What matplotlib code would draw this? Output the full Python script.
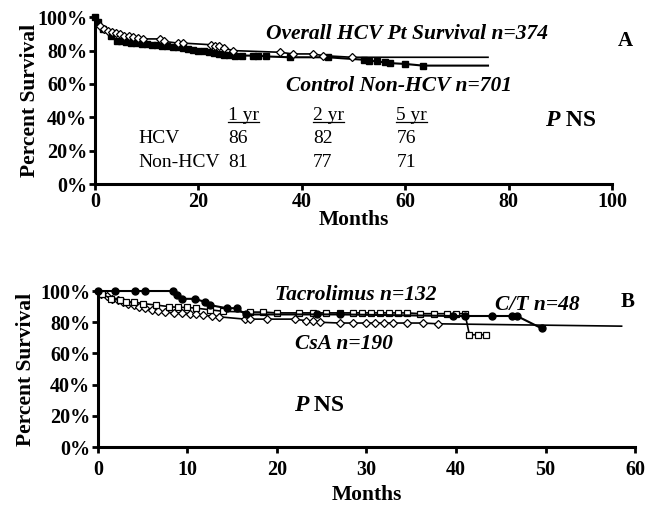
import numpy as np
import matplotlib
matplotlib.use("Agg")
import matplotlib.pyplot as plt

plt.rcParams['font.family'] = ['Liberation Serif', 'DejaVu Serif']

# Panel A : HCV vs non-HCV (months, % survival)
hcv_t = [0, 1, 1.8, 2.5, 3.2, 4, 4.8, 5.6, 6.5, 7.4, 8.3, 9.2, 12.6, 13.4, 16, 17,
         22.5, 23.3, 24, 25, 26.7, 35.8, 38.3, 42.2, 44.1, 49.7, 76]
hcv_s = [100, 95, 93, 92, 91, 90.5, 90, 89, 88.5, 88, 87.5, 87, 87, 85.5, 84.5, 84.5,
         83.5, 83, 82.5, 81.5, 80, 79, 78, 78, 77, 76, 76]

ctrl_t = [0, 0.5, 1.5, 3, 4.3, 5, 6, 7, 8, 9, 10, 11, 12, 13, 14, 15, 16, 17, 18, 19,
          20, 21, 22, 23, 24, 25, 26, 27, 28.5, 30.5, 31.5, 33, 37.7, 45, 52, 53, 54.5,
          56, 57, 60, 63.4, 76]
ctrl_s = [100, 97, 93, 89, 86, 85.5, 85, 84.5, 84.5, 84, 84, 83.5, 83.5, 83, 82.5, 82,
          82, 81.5, 81, 80.5, 80, 79.5, 79, 78.5, 78, 77.5, 77.5, 77, 77, 77, 77, 76.5,
          76, 76, 74.5, 74, 73.5, 73, 72.5, 72, 71, 71]

tab_cols = ["1 yr", "2 yr", "5 yr"]
tab_hcv = [86, 82, 76]
tab_non = [81, 77, 71]

# Panel B : by immunosuppression
ct_t = [0, 1.9, 4.1, 5.3, 8.4, 8.8, 9.4, 10.8, 12, 12.5, 14.4, 15.5, 16.5, 24.5, 27,
        39.7, 41, 44, 46.3, 46.8, 49.6]
ct_s = [100, 100, 100, 100, 100, 97.5, 95, 95, 93, 91, 89, 89, 85, 85, 85,
        84, 84, 84, 84, 84, 76]

tac_t = [0, 0.5, 1.5, 2.5, 3.2, 4, 5, 6.5, 8, 9, 10, 11, 12.5, 14, 17, 18.5, 20, 22.5,
         24, 25.5, 27, 28.5, 29.5, 30.5, 31.5, 32.5, 33.5, 34.5, 36, 37.5, 39, 40, 41,
         41.5, 42.5, 43.3]
tac_s = [100, 98, 95, 94, 93, 93, 92, 91, 90, 89.5, 89.5, 89, 88, 87, 86.5, 86.5, 86, 86,
         86, 86, 86, 86, 86, 86, 86, 86, 86, 86, 85.5, 85.5, 85.5, 85.5, 85.5,
         72, 72, 72]

csa_t = [0, 0.4, 1, 1.6, 2.2, 2.8, 3.4, 4, 4.6, 5.3, 6, 6.7, 7.5, 8.5, 9.4, 10.3, 11,
         11.8, 12.7, 13.5, 16.4, 17, 18.9, 22, 23.2, 24, 24.8, 27, 28.5, 30, 31, 32, 33,
         34.5, 36.3, 38, 58.5]
csa_s = [100, 98, 96.5, 95, 94, 93, 92, 91, 90, 89, 88, 87, 86.5, 86, 86, 85.5, 85,
         84.5, 84, 83.5, 82, 82, 82, 82, 81, 80.5, 80, 79.5, 79.5, 79.5, 79.5, 79.5, 79.5,
         79.5, 79.5, 79, 77.5]

fig = plt.figure(figsize=(6.48, 5.07), dpi=100)
axA = fig.add_axes([0.1466, 0.637, 0.798, 0.329])
axB = fig.add_axes([0.151, 0.118, 0.829, 0.308])


def style(ax, xmax, xstep, xpad, xlpad, ylpad):
    ax.set_xlim(0, xmax)
    ax.set_ylim(0, 100)
    for s in ['top', 'right']:
        ax.spines[s].set_visible(False)
    for s in ['left', 'bottom']:
        ax.spines[s].set_linewidth(2.2)
    ax.set_xticks(np.arange(0, xmax + 1, xstep))
    ax.set_yticks(np.arange(0, 101, 20))
    ax.set_yticklabels([f"{v}%" for v in range(0, 101, 20)])
    ax.tick_params(direction='out', length=4, width=2, labelsize=14.5, pad=1.5)
    ax.tick_params(axis='x', pad=xpad)
    for lab in ax.get_xticklabels() + ax.get_yticklabels():
        lab.set_fontweight('bold')
    ax.set_xlabel("Months", fontsize=15.5, fontweight='bold', labelpad=xlpad)
    ax.set_ylabel("Percent Survival", fontsize=15.5, fontweight='bold', labelpad=ylpad)


def pns(ax, x, y):
    ax.text(x, y, "P", fontsize=17, fontweight='bold', style='italic',
            va='center', ha='right')
    ax.text(x, y, " NS", fontsize=17, fontweight='bold', va='center', ha='left')


# ---- A
style(axA, 100, 20, 1.5, -1, -2)
axA.plot(ctrl_t, ctrl_s, '-', color='black', lw=1.5, marker='s', ms=5,
         mfc='black', mec='black', markevery=slice(0, -1), clip_on=False)
axA.plot(hcv_t, hcv_s, '-', color='black', lw=1.2, marker='D', ms=4,
         mfc='white', mec='black', mew=0.9, markevery=slice(1, -1), clip_on=False)

axA.text(33, 90, "Overall HCV Pt Survival n=374", fontsize=15.5, fontweight='bold',
         style='italic', va='center')
axA.text(37, 59, "Control Non-HCV n=701", fontsize=15.5, fontweight='bold',
         style='italic', va='center')
axA.text(102.5, 86, "A", fontsize=15, fontweight='bold', ha='center', va='center')
pns(axA, 89.9, 38)

col_x = [25.7, 42.2, 58.3]
heads = []
for cx, c, h, n in zip(col_x, tab_cols, tab_hcv, tab_non):
    heads.append(axA.text(cx, 41, c, fontsize=14, va='center'))
    axA.text(cx, 27.5, str(h), fontsize=14, va='center')
    axA.text(cx, 13, str(n), fontsize=14, va='center')
axA.text(8.3, 27.5, "HCV", fontsize=14, va='center')
axA.text(8.3, 13, "Non-HCV", fontsize=14, va='center')

# underline the column heads
fig.canvas.draw()
inv = axA.transData.inverted()
for t in heads:
    bb = t.get_window_extent()
    (x0, y0), (x1, _) = inv.transform([[bb.x0, bb.y0], [bb.x1, bb.y1]])
    axA.plot([x0, x1], [y0 + 1.5, y0 + 1.5], color='black', lw=0.9)

# ---- B
style(axB, 60, 10, 5, 4, 3)
axB.plot(csa_t, csa_s, '-', color='black', lw=1.2, marker='D', ms=4.5,
         mfc='white', mec='black', mew=0.9, markevery=slice(1, -1), clip_on=False)
axB.plot(tac_t, tac_s, '-', color='black', lw=1.2, marker='s', ms=5,
         mfc='white', mec='black', mew=0.9, markevery=slice(1, None), clip_on=False)
axB.plot(ct_t, ct_s, '-', color='black', lw=1.5, marker='o', ms=5,
         mfc='black', mec='black', clip_on=False)

axB.text(19.8, 97.5, "Tacrolimus n=132", fontsize=15.5, fontweight='bold',
         style='italic', va='center')
axB.text(44.4, 91, "C/T n=48", fontsize=15.5, fontweight='bold', style='italic',
         va='center')
axB.text(22, 66, "CsA n=190", fontsize=15.5, fontweight='bold', style='italic',
         va='center')
axB.text(59.2, 93, "B", fontsize=15, fontweight='bold', ha='center', va='center')
pns(axB, 23.5, 27)

fig.savefig("out.png", dpi=100)
